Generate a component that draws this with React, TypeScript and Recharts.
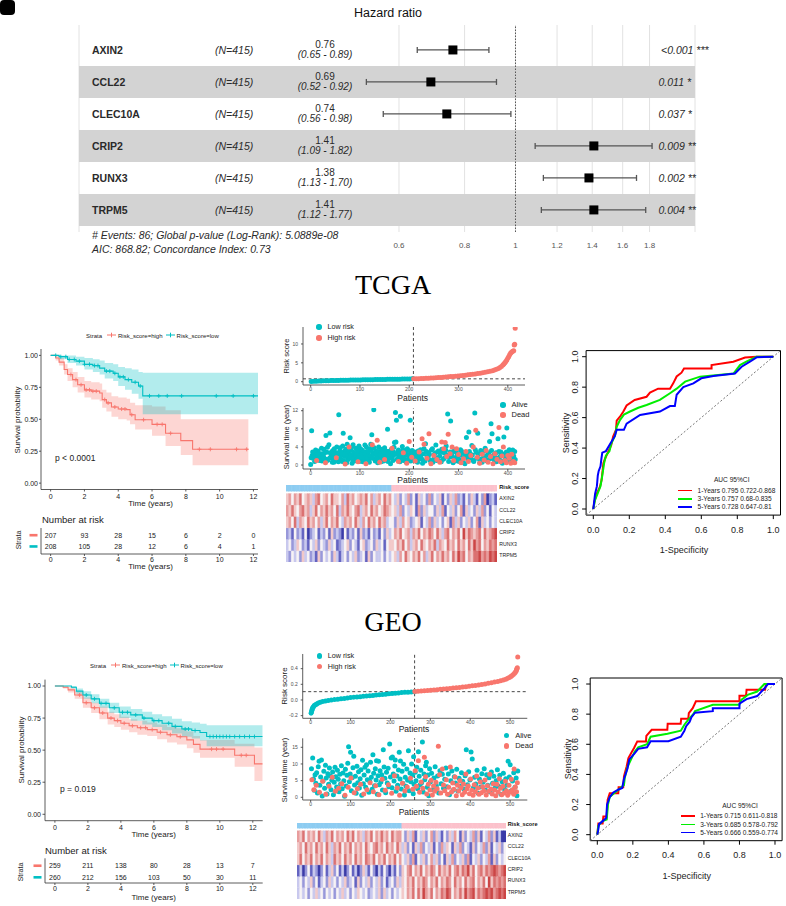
import React from 'react';
import {
  ComposedChart, ScatterChart, BarChart, Bar, Cell, Scatter, Line, Area, XAxis, YAxis,
  CartesianGrid, ReferenceLine, ReferenceArea, ErrorBar,
} from 'recharts';

const FONT = '"Liberation Sans", Arial, Helvetica, sans-serif';
const RED = '#F8766D';
const TEAL = '#00BFC4';
const AX = { stroke: '#333', strokeWidth: 0.8 };

// ---------- forest plot ----------
const GENES = ['AXIN2', 'CCL22', 'CLEC10A', 'CRIP2', 'RUNX3', 'TRPM5'];
const HR = [0.76, 0.69, 0.74, 1.41, 1.38, 1.41];
const HR_LO = [0.65, 0.52, 0.56, 1.09, 1.13, 1.12];
const HR_HI = [0.89, 0.92, 0.98, 1.82, 1.70, 1.77];
const P_TEXT = ['<0.001', '0.011', '0.037', '0.009', '0.002', '0.004'];
const P_STARS = ['***', '*', '*', '**', '**', '**'];
const FOREST_N = 415;
const HR_TICKS = [0.6, 0.8, 1, 1.2, 1.4, 1.6, 1.8];
const HR_DOMAIN = [0.1475, 2.197];

// ---------- KM ----------
const KM_TICKS = [0, 2, 4, 6, 8, 10, 12];
const SURV_TICKS = [0, 0.25, 0.5, 0.75, 1];
const RISK_TIMES = [0, 2, 4, 6, 8, 10, 12];

const TCGA_HIGH_T = [0, 0.3, 0.5, 0.8, 1.0, 1.3, 1.6, 2.0, 2.4, 2.9, 3.05, 3.3, 3.6, 4.0, 4.5, 4.7, 5.0, 6.0, 6.8, 7.7, 8.4];
const TCGA_HIGH_S = [1, 0.98, 0.947, 0.89, 0.85, 0.81, 0.77, 0.73, 0.72, 0.706, 0.654, 0.628, 0.596, 0.58, 0.575, 0.535, 0.496, 0.46, 0.39, 0.333, 0.265];
const TCGA_HIGH_LO = [1, 0.96, 0.92, 0.85, 0.80, 0.75, 0.71, 0.67, 0.655, 0.64, 0.59, 0.56, 0.52, 0.50, 0.49, 0.46, 0.42, 0.37, 0.29, 0.22, 0.14];
const TCGA_HIGH_HI = [1, 1, 0.98, 0.93, 0.90, 0.87, 0.83, 0.80, 0.79, 0.78, 0.73, 0.71, 0.68, 0.67, 0.66, 0.63, 0.61, 0.60, 0.57, 0.50, 0.50];
const TCGA_HIGH_CENSOR = [1.2, 1.5, 1.8, 2.1, 2.3, 2.5, 2.7, 3.2, 3.4, 3.8, 4.2, 4.4, 4.8, 5.5, 6.3, 6.6, 7.1, 8.8, 9.45, 11.0, 11.6];
const TCGA_LOW_T = [0, 0.5, 1.0, 1.5, 2.0, 2.5, 2.9, 3.2, 3.7, 4.0, 4.4, 4.8, 5.2, 5.45];
const TCGA_LOW_S = [1, 0.99, 0.968, 0.955, 0.93, 0.92, 0.90, 0.877, 0.86, 0.832, 0.81, 0.79, 0.76, 0.683];
const TCGA_LOW_LO = [1, 0.97, 0.94, 0.92, 0.89, 0.87, 0.85, 0.82, 0.80, 0.76, 0.73, 0.70, 0.66, 0.54];
const TCGA_LOW_HI = [1, 1, 1, 0.99, 0.98, 0.97, 0.96, 0.94, 0.93, 0.91, 0.90, 0.89, 0.87, 0.865];
const TCGA_LOW_CENSOR = [0.3, 0.6, 0.9, 1.1, 1.4, 1.7, 2.0, 2.3, 2.6, 2.8, 3.3, 3.5, 3.8, 4.1, 4.3, 4.6, 5.0, 5.3, 5.85, 6.4, 6.9, 7.75, 9.8, 10.8, 12.0];
const TCGA_AT_RISK_HIGH = [207, 93, 28, 15, 6, 2, 0];
const TCGA_AT_RISK_LOW = [208, 105, 28, 12, 6, 4, 1];

const GEO_HIGH_T = [0, 0.5, 0.8, 1.2, 1.7, 2.2, 2.7, 3.2, 3.6, 4.0, 4.5, 5.0, 5.6, 6.2, 6.8, 7.4, 8.0, 8.4, 8.8, 10.9, 12.1];
const GEO_HIGH_S = [1, 0.99, 0.97, 0.93, 0.87, 0.83, 0.79, 0.75, 0.73, 0.71, 0.69, 0.675, 0.66, 0.64, 0.62, 0.605, 0.58, 0.545, 0.508, 0.46, 0.393];
const GEO_HIGH_LO = [1, 0.98, 0.95, 0.90, 0.83, 0.79, 0.74, 0.70, 0.68, 0.66, 0.64, 0.62, 0.61, 0.585, 0.56, 0.545, 0.515, 0.48, 0.44, 0.37, 0.26];
const GEO_HIGH_HI = [1, 1, 0.99, 0.96, 0.91, 0.87, 0.84, 0.80, 0.78, 0.76, 0.74, 0.73, 0.715, 0.70, 0.68, 0.67, 0.645, 0.61, 0.58, 0.55, 0.52];
const GEO_HIGH_CENSOR = [1.5, 1.9, 2.4, 2.9, 3.4, 3.8, 4.2, 4.7, 5.2, 5.5, 5.9, 6.4, 7.0, 7.6, 9.5, 9.8, 10.2, 11.3, 11.6];
const GEO_LOW_T = [0, 1.0, 1.3, 1.7, 2.2, 2.7, 3.3, 3.9, 4.6, 5.3, 5.9, 6.5, 7.1, 7.7, 8.3, 8.8, 9.2];
const GEO_LOW_S = [1, 0.99, 0.96, 0.93, 0.90, 0.865, 0.83, 0.795, 0.775, 0.75, 0.73, 0.71, 0.685, 0.665, 0.653, 0.638, 0.606];
const GEO_LOW_LO = [1, 0.98, 0.94, 0.90, 0.865, 0.83, 0.79, 0.75, 0.73, 0.70, 0.68, 0.655, 0.63, 0.605, 0.59, 0.575, 0.53];
const GEO_LOW_HI = [1, 1, 0.98, 0.96, 0.935, 0.90, 0.87, 0.84, 0.82, 0.80, 0.78, 0.765, 0.745, 0.725, 0.715, 0.705, 0.695];
const GEO_LOW_CENSOR = [1.9, 2.4, 2.8, 3.1, 3.6, 4.1, 4.4, 4.9, 5.4, 6.0, 6.3, 6.9, 7.3, 7.9, 8.1, 8.5, 9.4, 9.6, 9.8, 10.0, 10.2, 10.4, 10.6, 10.9, 11.2, 11.5, 11.8, 12.1];
const GEO_AT_RISK_HIGH = [259, 211, 138, 80, 28, 13, 7];
const GEO_AT_RISK_LOW = [260, 212, 156, 103, 50, 30, 11];

// ---------- risk score curves (patient rank, score) ----------
const TCGA_LOW_RISK = [[1,0.02],[6,0.1],[11,0.15],[16,0.18],[21,0.21],[26,0.23],[31,0.25],[36,0.27],[41,0.29],[46,0.31],[51,0.33],[56,0.34],[61,0.36],[66,0.37],[71,0.39],[76,0.4],[81,0.42],[86,0.43],[91,0.45],[96,0.46],[101,0.47],[106,0.49],[111,0.5],[116,0.51],[121,0.53],[126,0.54],[131,0.55],[136,0.57],[141,0.58],[146,0.59],[151,0.6],[156,0.62],[161,0.63],[166,0.64],[171,0.65],[176,0.67],[181,0.68],[186,0.69],[191,0.71],[196,0.72],[201,0.73],[206,0.75],[208,0.76]];
const TCGA_HIGH_RISK = [[209,0.77],[214,0.79],[219,0.81],[224,0.84],[229,0.87],[234,0.9],[239,0.93],[244,0.97],[249,1.01],[254,1.05],[259,1.09],[264,1.14],[269,1.19],[274,1.24],[279,1.29],[284,1.35],[289,1.41],[294,1.47],[299,1.53],[304,1.6],[309,1.67],[314,1.74],[319,1.82],[324,1.9],[329,1.98],[334,2.07],[339,2.16],[344,2.26],[349,2.37],[354,2.49],[359,2.62],[364,2.76],[369,2.92],[373,3.08],[377,3.28],[381,3.5],[384,3.75],[387,4.05],[390,4.4],[392,4.7],[394,5.0],[396,5.35],[398,5.75],[400,6.2],[402,6.7],[404,7.2],[406,7.6],[408,7.9],[410,8.05],[412,8.2],[413,9.7],[414,9.9],[415,14.2]];
const GEO_LOW_RISK = [[1,-0.17],[2,-0.15],[3,-0.13],[4,-0.115],[5,-0.1],[7,-0.085],[9,-0.072],[12,-0.06],[15,-0.05],[19,-0.04],[24,-0.03],[30,-0.02],[37,-0.012],[44,-0.006],[52,0.0],[60,0.005],[68,0.01],[76,0.015],[84,0.02],[92,0.025],[100,0.03],[108,0.034],[116,0.038],[124,0.042],[132,0.046],[140,0.05],[148,0.054],[156,0.058],[164,0.062],[172,0.066],[180,0.07],[188,0.074],[196,0.078],[204,0.082],[212,0.086],[220,0.09],[228,0.094],[236,0.097],[244,0.1],[252,0.103],[260,0.106]];
const GEO_HIGH_RISK = [[261,0.107],[269,0.11],[277,0.113],[285,0.117],[293,0.12],[301,0.124],[309,0.128],[317,0.132],[325,0.136],[333,0.14],[341,0.144],[349,0.148],[357,0.152],[365,0.156],[373,0.16],[381,0.165],[389,0.17],[397,0.175],[405,0.18],[413,0.186],[421,0.192],[429,0.198],[437,0.205],[445,0.212],[453,0.22],[461,0.228],[469,0.237],[476,0.246],[483,0.256],[489,0.266],[494,0.277],[498,0.288],[502,0.3],[505,0.312],[508,0.325],[511,0.34],[513,0.355],[515,0.37],[516,0.385],[517,0.398],[518,0.41],[519,0.55]];

// ---------- survival time scatter (patient rank, years) ----------
const TCGA_ALIVE = [[2,7.6],[0,0.1],[3,2.1],[5,1.5],[7,2.6],[9,1.9],[11,2.3],[13,1.2],[15,3.1],[17,2.0],[19,1.7],[21,2.5],[23,0.9],[25,2.2],[27,3.5],[29,1.4],[31,6.5],[33,2.8],[35,1.1],[37,4.5],[39,7.1],[41,2.4],[43,1.6],[45,3.2],[47,0.6],[49,2.9],[51,1.8],[53,4.0],[55,2.6],[57,11.1],[58,1.3],[60,3.8],[62,2.1],[64,0.8],[66,7.0],[68,3.0],[70,1.9],[72,2.7],[74,4.6],[76,1.2],[78,2.3],[80,6.0],[82,3.4],[84,0.4],[86,4.5],[88,2.0],[90,1.6],[92,3.7],[94,2.5],[96,1.0],[98,4.2],[100,2.8],[102,1.5],[104,3.3],[106,0.7],[108,2.2],[110,4.4],[112,1.8],[114,3.0],[116,2.4],[118,1.1],[120,3.6],[122,4.6],[124,6.7],[126,2.6],[128,12.2],[130,1.4],[132,3.1],[134,2.0],[136,0.5],[138,4.0],[140,2.7],[142,1.7],[144,3.4],[146,2.2],[148,0.9],[150,3.8],[152,2.5],[154,1.3],[156,7.9],[158,3.0],[160,2.1],[162,0.3],[164,3.5],[166,1.8],[168,2.9],[170,5.0],[172,11.6],[173,5.1],[174,9.9],[176,2.4],[178,3.3],[180,1.5],[182,10.8],[184,2.7],[186,4.1],[188,1.0],[190,3.1],[192,2.2],[194,0.6],[196,3.6],[198,2.0],[200,1.4],[202,9.9],[204,2.8],[206,3.2],[210,1.8],[212,2.5],[215,0.8],[218,3.1],[221,1.4],[224,2.2],[227,0.4],[230,3.6],[233,4.7],[236,1.9],[239,2.7],[242,1.1],[245,3.3],[248,0.6],[251,2.4],[254,4.4],[257,1.6],[260,2.9],[263,0.9],[266,3.5],[269,1.3],[272,2.6],[275,4.2],[278,11.3],[281,1.7],[284,9.7],[286,2.3],[289,0.5],[292,3.0],[295,1.5],[298,2.1],[301,0.8],[304,3.4],[307,1.2],[310,2.6],[313,0.3],[316,6.1],[318,1.9],[321,7.3],[324,2.4],[327,4.3],[330,1.0],[333,11.5],[336,2.8],[339,7.0],[342,1.4],[345,3.2],[348,0.6],[351,2.0],[354,3.7],[357,1.1],[360,2.7],[363,5.2],[366,9.1],[368,6.9],[371,1.6],[374,2.3],[377,0.7],[380,5.8],[383,1.3],[386,2.9],[389,0.4],[392,6.2],[395,1.8],[398,8.2],[401,2.4],[404,0.9],[407,1.5],[410,3.3],[413,0.6],[415,1.2],
  [1,1.6],[4,2.9],[8,0.8],[10,3.3],[14,2.4],[18,1.0],[22,3.7],[26,1.8],[28,2.7],[32,0.9],[34,3.9],[38,1.5],[42,2.9],[44,0.6],[46,2.0],[48,3.6],[50,1.1],[54,2.3],[56,0.7],[59,3.1],[61,1.4],[63,2.6],[65,4.2],[67,1.0],[69,2.4],[71,3.5],[73,0.5],[75,1.9],[77,3.0],[79,1.6],[81,2.2],[83,3.9],[85,1.3],[87,2.8],[89,0.9],[91,2.1],[93,1.2],[95,3.2],[97,2.0],[99,0.8],[101,3.6],[103,2.3],[105,1.7],[107,3.0],[109,1.0],[111,2.6],[113,4.0],[115,1.4],[117,2.9],[119,0.6],[121,2.0],[123,3.2],[125,1.5],[127,2.3],[129,3.8],[131,0.9],[133,2.5],[135,1.6],[137,3.0],[139,1.2],[141,2.4],[143,0.7],[145,3.5],[147,1.9],[149,2.6],[151,1.1],[153,3.1],[155,2.0],[157,0.8],[159,2.7],[161,1.6],[163,3.3],[165,2.2],[167,1.0],[169,3.9],[171,2.3],[175,1.3],[177,3.0],[179,2.1],[181,0.7],[183,2.5],[185,1.7],[187,3.4],[189,2.0],[191,1.2],[193,3.0],[195,2.4],[197,1.1],[199,3.2],[201,2.1],[203,0.9],[205,2.5],[207,1.6],
  [211,2.9],[214,1.6],[217,0.6],[220,2.1],[223,3.4],[226,1.3],[229,2.5],[232,0.9],[235,3.0],[238,1.7],[241,2.3],[244,0.5],[247,3.6],[250,1.4],[253,2.7],[256,1.0],[259,3.1],[262,2.0],[265,0.7],[268,2.8],[271,1.5],[274,3.3],[277,2.2],[280,0.8],[283,2.9],[288,1.8],[291,3.4],[294,0.9],[297,2.6],[300,1.3],[303,2.2],[306,3.1],[309,0.6],[312,1.8],[315,2.7],[319,1.1],[322,3.0],[325,1.6],[328,2.2],[331,0.8],[334,3.4],[337,1.5],[340,2.4],[343,0.5],[346,2.8],[349,1.3],[352,3.1],[355,2.0],[358,0.9],[361,2.5],[364,1.4],[367,3.2],[370,2.1],[373,1.0],[376,2.7],[379,1.5],[382,3.0],[385,2.0],[388,0.8],[391,2.4],[394,1.1],[397,2.9],[400,1.6],[403,3.4],[406,2.2],[409,0.7],[412,2.0],[414,3.0]];
const TCGA_DEAD = [[12,1.0],[30,0.5],[52,1.6],[70,0.2],[78,4.0],[96,0.7],[112,0.3],[125,4.5],[135,5.5],[140,0.6],[150,1.2],[165,3.7],[178,0.8],[188,2.7],[195,0.4],[200,5.2],[205,1.7],[212,0.9],[220,2.9],[226,5.8],[230,4.6],[236,1.5],[240,6.9],[244,0.3],[250,2.1],[256,1.2],[262,0.6],[266,5.1],[270,3.6],[273,5.0],[276,1.9],[279,6.8],[283,2.5],[287,4.0],[290,1.0],[296,3.6],[300,2.3],[305,0.5],[310,1.4],[315,3.0],[320,0.8],[325,2.1],[330,4.0],[335,7.7],[338,1.7],[343,0.4],[348,2.4],[352,1.1],[356,3.2],[360,0.6],[365,1.9],[370,0.3],[374,2.5],[378,1.3],[382,8.3],[385,0.7],[388,2.0],[391,4.0],[394,1.0],[397,0.5],[400,2.1],[403,1.5],[406,0.4],[408,2.4],[411,0.8],[414,0.5]];
const GEO_ALIVE = [[2,8.6],[5,11.8],[7,5.5],[9,2.1],[11,6.8],[13,4.2],[15,7.4],[17,1.3],[19,9.2],[21,10.8],[23,3.6],[25,6.1],[27,11.2],[29,0.4],[31,4.9],[33,7.8],[35,2.7],[37,9.6],[39,5.8],[41,1.0],[43,7.1],[45,3.9],[47,8.8],[49,6.4],[51,2.3],[53,5.1],[55,7.6],[57,0.8],[59,4.5],[61,9.0],[63,6.2],[65,3.1],[67,8.1],[69,5.4],[71,1.7],[73,6.9],[75,4.0],[77,9.5],[79,2.6],[81,7.3],[83,5.0],[85,0.3],[87,8.4],[89,3.4],[91,6.6],[93,10.2],[95,15.2],[97,4.7],[99,7.0],[100,13.5],[102,2.0],[104,5.9],[106,8.9],[108,12.3],[110,3.7],[112,6.3],[114,1.2],[116,9.3],[118,4.4],[120,7.7],[122,2.8],[124,5.6],[126,8.3],[128,0.6],[130,11.1],[132,4.1],[134,6.7],[136,9.0],[138,3.0],[140,9.8],[142,5.3],[144,7.9],[146,1.5],[148,4.8],[150,10.5],[152,6.0],[154,2.4],[156,12.8],[158,7.2],[160,3.5],[162,8.6],[164,5.2],[165,11.0],[167,0.9],[169,6.5],[170,10.8],[172,3.8],[174,8.0],[176,4.6],[178,6.8],[180,2.2],[182,14.3],[184,9.1],[186,5.7],[188,1.4],[190,7.5],[192,4.3],[194,8.7],[196,3.2],[198,16.0],[200,6.1],[202,11.8],[204,2.9],[205,12.1],[207,7.0],[209,4.9],[211,9.4],[212,11.2],[214,1.8],[216,6.4],[218,3.6],[220,8.2],[222,13.5],[224,5.5],[225,10.9],[227,2.5],[229,7.8],[231,4.2],[233,9.9],[235,0.7],[237,6.0],[239,3.3],[241,8.5],[243,5.1],[245,14.0],[247,2.0],[249,7.3],[251,4.7],[253,10.0],[255,6.6],[257,1.1],[258,12.2],[259,3.9],[262,7.5],[264,5.0],[266,9.0],[268,2.6],[270,13.7],[272,6.3],[274,3.7],[276,8.1],[278,4.4],[280,16.6],[282,1.6],[284,7.0],[286,5.3],[288,9.5],[290,10.5],[292,3.0],[294,6.7],[296,0.5],[298,8.6],[300,4.6],[303,7.2],[306,2.3],[309,5.8],[312,9.2],[315,3.5],[318,6.4],[321,1.3],[324,8.0],[327,4.1],[330,6.9],[333,2.7],[336,5.4],[339,8.8],[342,3.2],[345,7.0],[348,0.8],[351,5.0],[354,7.9],[357,2.1],[360,6.2],[363,4.3],[366,8.4],[369,1.9],[372,5.7],[375,3.4],[378,7.4],[381,4.8],[384,2.5],[387,6.5],[390,14.3],[393,3.8],[396,7.7],[399,5.2],[402,13.6],[405,11.5],[408,2.9],[411,6.0],[414,4.0],[417,8.1],[420,1.2],[423,5.5],[426,3.1],[429,7.1],[432,4.5],[435,8.6],[438,2.2],[441,6.8],[444,3.6],[447,5.9],[450,1.6],[453,7.6],[456,4.2],[459,6.3],[462,2.8],[465,5.0],[468,8.3],[471,3.3],[474,6.6],[477,0.9],[480,4.7],[483,7.2],[486,2.4],[489,5.6],[492,3.7],[495,10.8],[498,6.1],[500,9.8],[503,2.0],[506,4.9],[509,7.4],[512,3.0],[515,5.8],[517,0.5],[519,7.9]];
const GEO_DEAD = [[3,5.3],[8,2.3],[14,3.6],[22,1.5],[30,4.8],[38,0.9],[46,3.3],[54,6.0],[62,1.8],[70,2.7],[78,4.1],[86,0.6],[94,3.0],[101,5.8],[109,1.4],[117,2.6],[125,3.9],[133,1.0],[141,2.3],[149,4.4],[157,1.7],[163,3.5],[171,0.8],[179,5.4],[187,2.1],[195,3.8],[203,1.2],[210,6.5],[217,2.8],[223,0.6],[230,4.2],[236,1.9],[242,3.1],[250,5.7],[256,2.4],[262,8.0],[265,3.3],[270,11.0],[273,1.5],[277,4.6],[281,2.7],[285,12.0],[288,6.2],[291,1.0],[295,3.9],[299,2.2],[302,5.1],[305,0.7],[308,3.4],[311,1.8],[314,4.5],[317,2.6],[320,15.3],[323,6.8],[326,1.3],[330,8.5],[333,3.7],[336,2.0],[340,5.3],[343,0.9],[346,3.0],[350,9.1],[353,1.6],[356,4.3],[359,2.4],[362,6.1],[365,0.5],[368,3.6],[371,1.9],[374,5.0],[377,2.9],[380,0.8],[383,4.0],[386,1.5],[389,7.0],[392,2.6],[395,3.4],[398,1.1],[401,5.5],[404,2.1],[407,0.6],[410,3.8],[413,1.7],[416,6.4],[419,2.8],[422,0.9],[425,4.6],[428,1.4],[431,3.2],[434,2.0],[437,5.2],[440,0.7],[443,3.5],[446,1.8],[449,6.9],[452,2.5],[455,1.0],[458,4.1],[461,2.2],[464,0.5],[467,3.9],[470,1.6],[473,5.6],[476,2.7],[479,0.8],[482,3.3],[485,1.3],[488,4.8],[491,2.0],[494,0.6],[497,3.6],[500,1.5],[503,5.4],[506,2.3],[509,0.9],[510,8.5],[513,3.1],[516,1.7],[518,4.4]];

// ---------- heatmaps: one digit per column, 0 = deep blue, 4 = white, 8 = deep red ----------
const HEAT_GENES = ['AXIN2', 'CCL22', 'CLEC10A', 'CRIP2', 'RUNX3', 'TRPM5'];
const HEAT_PAL = ['#3b3ba8', '#6464c2', '#9898da', '#c9c9ee', '#f7f3f5', '#f2c9c9', '#e89d9d', '#db7272', '#cc4646'];
const TCGA_HEAT = [
  '5646574565' + '3674564755' + '4637564565' + '7463564756' + '4352436241' + '5342624351' + '4253623142' + '5314260231',
  '6575467563' + '5746575647' + '3657546735' + '6475645765' + '4536243541' + '6253442536' + '1435246153' + '4253624143',
  '5647365475' + '6463574657' + '4365647536' + '4756475634' + '4253645234' + '5143625342' + '4516352435' + '2461534243',
  '2314231402' + '3413241523' + '2041324152' + '3142314253' + '4657456365' + '7465764753' + '6746574857' + '6567475678',
  '3423542314' + '3524325341' + '2345243145' + '2342534145' + '5465746356' + '4754657365' + '4756475647' + '5867465767',
  '3243425342' + '3152434253' + '1342435234' + '1524334243' + '4536475465' + '7463574657' + '5647586746' + '5778676878',
];
const GEO_HEAT = [
  '6574656475' + '3657465647' + '5746536574' + '6575647566' + '4253614352' + '4625314253' + '6415243625' + '1436251300',
  '5647564756' + '4753657465' + '7465647546' + '7564756475' + '3524153624' + '3514263541' + '5362431524' + '3625143524',
  '5746574657' + '4653756475' + '6475647657' + '4657465746' + '4352614352' + '4635241536' + '2435261435' + '2436152434',
  '1302413202' + '4135241302' + '4130253142' + '0314203142' + '5467465746' + '5764756574' + '6757685746' + '7576787678',
  '3424352413' + '4253424352' + '3415243524' + '3524134253' + '5465746576' + '4657465764' + '7564756746' + '5748576767',
  '3434243534' + '2434243534' + '2435434234' + '3525342434' + '5465747586' + '5746576874' + '6575867857' + '6787867878',
];
const RISK_BAR = ['#8ecdf2', '#fcc2cc'];

// ---------- ROC ----------
const ROC_TICKS = [0, 0.2, 0.4, 0.6, 0.8, 1];
const TCGA_ROC_1Y_X = [0, 0.006, 0.019, 0.037, 0.046, 0.056, 0.065, 0.083, 0.10, 0.11, 0.126, 0.13, 0.148, 0.167, 0.185, 0.23, 0.296, 0.315, 0.36, 0.426, 0.444, 0.463, 0.49, 0.504, 0.657, 0.657, 0.778, 0.843, 0.907, 1];
const TCGA_ROC_1Y_Y = [0, 0.048, 0.10, 0.147, 0.19, 0.30, 0.33, 0.376, 0.42, 0.475, 0.52, 0.58, 0.606, 0.64, 0.68, 0.716, 0.737, 0.764, 0.79, 0.79, 0.825, 0.87, 0.895, 0.923, 0.923, 0.945, 0.967, 0.995, 1, 1];
const TCGA_ROC_3Y_X = [0, 0.01, 0.02, 0.04, 0.05, 0.06, 0.07, 0.09, 0.10, 0.12, 0.13, 0.148, 0.17, 0.204, 0.25, 0.296, 0.37, 0.426, 0.463, 0.51, 0.593, 0.78, 0.815, 0.85, 0.907, 1];
const TCGA_ROC_3Y_Y = [0, 0.06, 0.09, 0.15, 0.22, 0.30, 0.35, 0.38, 0.43, 0.48, 0.54, 0.584, 0.62, 0.64, 0.665, 0.683, 0.716, 0.76, 0.79, 0.836, 0.869, 0.89, 0.945, 0.967, 1, 1];
const TCGA_ROC_5Y_X = [0, 0.005, 0.01, 0.02, 0.025, 0.03, 0.04, 0.045, 0.05, 0.07, 0.09, 0.10, 0.12, 0.13, 0.17, 0.185, 0.26, 0.37, 0.426, 0.453, 0.463, 0.5, 0.556, 0.6, 0.667, 0.787, 0.824, 0.87, 0.907, 1];
const TCGA_ROC_5Y_Y = [0, 0.05, 0.10, 0.15, 0.22, 0.25, 0.28, 0.33, 0.37, 0.38, 0.42, 0.44, 0.48, 0.52, 0.52, 0.56, 0.617, 0.64, 0.676, 0.676, 0.75, 0.80, 0.825, 0.858, 0.873, 0.89, 0.934, 0.967, 0.996, 1];
const GEO_ROC_1Y_X = [0, 0.006, 0.03, 0.034, 0.053, 0.058, 0.07, 0.118, 0.12, 0.146, 0.15, 0.165, 0.175, 0.19, 0.206, 0.225, 0.274, 0.276, 0.306, 0.394, 0.396, 0.469, 0.472, 0.512, 0.515, 0.537, 0.555, 0.80, 0.80, 0.837, 0.84, 0.944, 0.95, 1];
const GEO_ROC_1Y_Y = [0, 0.075, 0.075, 0.12, 0.12, 0.23, 0.275, 0.275, 0.315, 0.315, 0.386, 0.452, 0.508, 0.541, 0.574, 0.619, 0.619, 0.656, 0.696, 0.696, 0.736, 0.736, 0.769, 0.769, 0.807, 0.84, 0.885, 0.885, 0.922, 0.922, 0.962, 0.962, 1, 1];
const GEO_ROC_3Y_X = [0, 0.006, 0.03, 0.053, 0.06, 0.07, 0.12, 0.15, 0.155, 0.17, 0.19, 0.21, 0.23, 0.28, 0.30, 0.395, 0.47, 0.49, 0.51, 0.54, 0.55, 0.65, 0.80, 0.81, 0.85, 0.90, 0.94, 1];
const GEO_ROC_3Y_Y = [0, 0.06, 0.09, 0.10, 0.20, 0.25, 0.30, 0.33, 0.38, 0.45, 0.50, 0.55, 0.58, 0.60, 0.65, 0.67, 0.69, 0.73, 0.76, 0.80, 0.82, 0.862, 0.862, 0.895, 0.93, 0.95, 1, 1];
const GEO_ROC_5Y_X = [0, 0.005, 0.01, 0.03, 0.05, 0.055, 0.07, 0.09, 0.12, 0.14, 0.15, 0.17, 0.18, 0.21, 0.23, 0.28, 0.30, 0.40, 0.47, 0.49, 0.50, 0.52, 0.53, 0.55, 0.65, 0.65, 0.80, 0.80, 0.84, 0.90, 0.94, 0.96, 1];
const GEO_ROC_5Y_Y = [0, 0.03, 0.07, 0.09, 0.11, 0.20, 0.25, 0.28, 0.30, 0.31, 0.37, 0.44, 0.50, 0.54, 0.57, 0.58, 0.62, 0.62, 0.65, 0.69, 0.72, 0.75, 0.78, 0.81, 0.82, 0.84, 0.84, 0.87, 0.90, 0.92, 0.97, 1, 1];
const ROC_COLORS = ['#ff0000', '#00ee00', '#0000ff'];
const TCGA_ROC_LEGEND = ['1-Years 0.795 0.722-0.868', '3-Years 0.757 0.68-0.835', '5-Years 0.728 0.647-0.81'];
const GEO_ROC_LEGEND = ['1-Years 0.715 0.611-0.818', '3-Years 0.685 0.578-0.792', '5-Years 0.666 0.559-0.774'];

// ---------- helpers ----------
const pairs = (a: number[][]) => a.map(([p, v]) => ({ p, v }));
const zipXY = (xs: number[], ys: number[]) => xs.map((x, i) => ({ x, y: ys[i] }));

function stepAt(ts: number[], ss: number[], t: number) {
  let s = ss[0];
  for (let i = 0; i < ts.length; i++) if (ts[i] <= t) s = ss[i];
  return s;
}

function kmSeries(t: number[], s: number[], lo: number[], hi: number[], censor: number[], end: number, color: string) {
  const line = t.map((tt, i) => ({ t: tt, s: s[i] }));
  line.push({ t: end, s: s[s.length - 1] });
  const band = t.map((tt, i) => ({ t: tt, ci: [lo[i], hi[i]] }));
  band.push({ t: end, ci: [lo[lo.length - 1], hi[hi.length - 1]] });
  const marks = censor.map((c) => ({ t: c, s: stepAt(t, s, c) }));
  return { line, band, marks, color };
}

function Txt({ x, y, size, anchor = 'start', rotate = false, bold = false, italic = false, color = '#222', family, children }: any) {
  const tx = anchor === 'middle' ? '-50%' : anchor === 'end' ? '-100%' : '0';
  return (
    <div style={{
      position: 'absolute', left: x, top: y, whiteSpace: 'nowrap', lineHeight: 1,
      transform: `translate(${rotate ? '-50%' : tx},-50%)${rotate ? ' rotate(-90deg)' : ''}`,
      fontSize: size, fontWeight: bold ? 'bold' : 'normal', fontStyle: italic ? 'italic' : 'normal',
      color, fontFamily: family || FONT,
    }}>{children}</div>
  );
}

function Box({ left, top, children }: any) {
  return <div style={{ position: 'absolute', left, top }}>{children}</div>;
}

// ---------- forest ----------
const forestRows = GENES.map((g, i) => ({
  row: i + 1, gene: g, hr: HR[i], lo: HR_LO[i], hi: HR_HI[i],
  err: [HR[i] - HR_LO[i], HR_HI[i] - HR[i]], p: P_TEXT[i], stars: P_STARS[i],
}));

function ForestShape(props: any) {
  const { cx, cy, payload } = props;
  if (cx == null || cy == null) return null;
  const t = { fill: '#2a2a2a', fontSize: 10.5 };
  return (
    <g>
      <rect x={cx - 4.5} y={cy - 4.5} width={9} height={9} fill="#000" />
      <text {...t} x={92} y={cy} dy="0.36em" fontWeight="bold">{payload.gene}</text>
      <text {...t} x={215} y={cy} dy="0.36em" fontStyle="italic">(N={FOREST_N})</text>
      <text {...t} fontSize={10} x={325} y={cy - 5.8} dy="0.36em" textAnchor="middle">{payload.hr.toFixed(2)}</text>
      <text {...t} fontSize={10} x={325} y={cy + 4.2} dy="0.36em" textAnchor="middle" fontStyle="italic">({payload.lo.toFixed(2)} - {payload.hi.toFixed(2)})</text>
      <text {...t} x={payload.p.startsWith('<') ? 661 : 658.5} y={cy} dy="0.36em" fontStyle="italic">{payload.p} {payload.stars}</text>
    </g>
  );
}

function Forest() {
  return (
    <ComposedChart width={786} height={260} margin={{ top: 25, right: 91, bottom: 8, left: 79 }}>
      <CartesianGrid horizontal={false} stroke="#e2e2e2" />
      <XAxis dataKey="hr" type="number" scale="log" domain={HR_DOMAIN} ticks={HR_TICKS} interval={0}
        axisLine={false} tickLine={false} tick={{ fontSize: 8, fill: '#555' }} height={20} tickMargin={4} />
      <YAxis dataKey="row" type="number" domain={[0.22, 6.69]} reversed hide />
      {[2, 4, 6].map((r) => (
        <ReferenceArea key={r} y1={r - 0.5} y2={r + 0.5} x1={HR_DOMAIN[0]} x2={HR_DOMAIN[1]} fill="#d3d3d3" fillOpacity={1} stroke="none" />
      ))}
      <ReferenceLine x={1} stroke="#555" strokeDasharray="1.5 1.5" />
      <Scatter data={forestRows} dataKey="row" shape={ForestShape} isAnimationActive={false}>
        <ErrorBar dataKey="err" direction="x" width={3} stroke="#555" strokeWidth={1.3} />
      </Scatter>
    </ComposedChart>
  );
}

// ---------- KM ----------
function PlusMark(props: any) {
  const { cx, cy, fill } = props;
  if (cx == null) return null;
  return <path d={`M${cx - 2},${cy}h4M${cx},${cy - 2}v4`} stroke={fill} strokeWidth={0.9} />;
}

function KMChart({ series, xDomain, width, height, margin, xHeight, yTickSize, yTickMargin }: any) {
  return (
    <ComposedChart width={width} height={height} margin={margin}>
      <XAxis dataKey="t" type="number" domain={xDomain} ticks={KM_TICKS} interval={0} allowDataOverflow height={xHeight}
        tick={{ fontSize: 7, fill: '#222' }} tickSize={2} tickMargin={2.5} axisLine={AX} tickLine={AX} />
      <YAxis type="number" domain={[-0.05, 1.05]} ticks={SURV_TICKS} interval={0} allowDataOverflow width={30}
        tickFormatter={(v: number) => v.toFixed(2)} tick={{ fontSize: 7, fill: '#222' }}
        tickSize={yTickSize} tickMargin={yTickMargin} axisLine={AX} tickLine={AX} />
      {series.map((c: any, i: number) => (
        <Area key={'a' + i} data={c.band} dataKey="ci" type="stepAfter" fill={c.color} fillOpacity={0.3} stroke="none" isAnimationActive={false} />
      ))}
      {series.map((c: any, i: number) => (
        <Line key={'l' + i} data={c.line} dataKey="s" type="stepAfter" stroke={c.color} strokeWidth={1.1} dot={false} isAnimationActive={false} />
      ))}
      {series.map((c: any, i: number) => (
        <Scatter key={'c' + i} data={c.marks} dataKey="s" fill={c.color} shape={PlusMark} isAnimationActive={false} />
      ))}
    </ComposedChart>
  );
}

function StrataTick(props: any) {
  const { x, y, payload } = props;
  return <rect x={x - 8} y={y - 1.3} width={8} height={2.6} fill={payload.value === 1 ? RED : TEAL} />;
}

function CountLabel(props: any) {
  const { cx, cy, payload } = props;
  if (cx == null) return null;
  return <text x={cx} y={cy} dy="0.36em" textAnchor="middle" fontSize={7} fill="#222">{payload.n}</text>;
}

function RiskTable({ high, low, xDomain, yDomain, width, height, margin }: any) {
  const rows = [
    ...RISK_TIMES.map((t, j) => ({ t, row: 1, n: high[j] })),
    ...RISK_TIMES.map((t, j) => ({ t, row: 2, n: low[j] })),
  ];
  return (
    <ScatterChart width={width} height={height} margin={margin}>
      <XAxis dataKey="t" type="number" domain={xDomain} ticks={KM_TICKS} interval={0} allowDataOverflow height={20}
        tick={{ fontSize: 7, fill: '#222' }} tickSize={2} tickMargin={1.5} axisLine={AX} tickLine={AX} />
      <YAxis dataKey="row" type="number" domain={yDomain} reversed ticks={[1, 2]} interval={0} allowDataOverflow width={30}
        tickLine={false} tickSize={0} tickMargin={3.5} tick={StrataTick} axisLine={AX} />
      <Scatter data={rows} shape={CountLabel} isAnimationActive={false} />
    </ScatterChart>
  );
}

function KMLegend({ x, y }: any) {
  const key = (color: string) => (
    <svg width={9} height={7} style={{ margin: '0 2px 0 3px' }}>
      <line x1={0} x2={9} y1={3.5} y2={3.5} stroke={color} strokeWidth={1} />
      <line x1={4.5} x2={4.5} y1={1.2} y2={5.8} stroke={color} strokeWidth={1} />
    </svg>
  );
  return (
    <div style={{ position: 'absolute', left: x, top: y, transform: 'translateY(-50%)', display: 'flex', alignItems: 'center', fontSize: 6, color: '#222', whiteSpace: 'nowrap', lineHeight: 1 }}>
      <span style={{ marginRight: 2 }}>Strata</span>
      {key(RED)}<span>Risk_score=high</span>
      {key(TEAL)}<span>Risk_score=low</span>
    </div>
  );
}

// ---------- risk score / survival scatter ----------
const dotShape = (r: number, color: string) => (props: any) =>
  props.cx == null ? null : <circle cx={props.cx} cy={props.cy} r={r} fill={color} />;

function PointChart({ a, b, colorA, colorB, r, xDomain, xTicks, yDomain, yTicks, yFmt, width, height, margin, hLine, vLine }: any) {
  return (
    <ScatterChart width={width} height={height} margin={margin}>
      <XAxis dataKey="p" type="number" domain={xDomain} ticks={xTicks} interval={0} allowDataOverflow height={16}
        tick={{ fontSize: 5, fill: '#4d4d4d' }} tickSize={2} tickMargin={0.5} axisLine={AX} tickLine={AX} />
      <YAxis dataKey="v" type="number" domain={yDomain} ticks={yTicks} interval={0} allowDataOverflow width={18}
        tickFormatter={yFmt} tick={{ fontSize: 5, fill: '#4d4d4d' }} tickSize={2} tickMargin={3} axisLine={AX} tickLine={AX} />
      <Scatter data={a} shape={dotShape(r, colorA)} isAnimationActive={false} />
      <Scatter data={b} shape={dotShape(r, colorB)} isAnimationActive={false} />
      {hLine != null && <ReferenceLine y={hLine} stroke="#333" strokeDasharray="3 2.5" strokeWidth={0.9} />}
      <ReferenceLine x={vLine} stroke="#333" strokeDasharray="3 2.5" strokeWidth={0.9} />
    </ScatterChart>
  );
}

function DotLegend({ x, y, gap, items, size }: any) {
  return (
    <>
      {items.map((it: any, i: number) => (
        <React.Fragment key={it.label}>
          <div style={{ position: 'absolute', left: x - 2.7, top: y + i * gap - 2.7, width: 5.4, height: 5.4, borderRadius: '50%', background: it.color }} />
          <Txt x={x + 8.5} y={y + i * gap} size={size}>{it.label}</Txt>
        </React.Fragment>
      ))}
    </>
  );
}

// ---------- heatmap ----------
function Heatmap({ rows, width, height, riskH }: any) {
  const n = rows[0].length;
  const half = n / 2;
  const cols = Array.from({ length: n }, (_, i) => {
    const o: any = { i, gap: 0.2, risk: riskH };
    HEAT_GENES.forEach((g) => { o[g] = 1; });
    return o;
  });
  const total = 6 + 0.2 + riskH;
  return (
    <BarChart width={width} height={height} data={cols} margin={{ top: 0, right: 0, bottom: 0, left: 0 }} barCategoryGap={0} barGap={0}>
      <XAxis dataKey="i" hide />
      <YAxis type="number" domain={[0, total]} allowDataOverflow hide />
      {[...HEAT_GENES].reverse().map((g) => {
        const k = HEAT_GENES.indexOf(g);
        return (
          <Bar key={g} dataKey={g} stackId="h" isAnimationActive={false}>
            {cols.map((c, i) => {
              const col = HEAT_PAL[Number(rows[k][i] ?? 4)];
              return <Cell key={i} fill={col} stroke={col} strokeWidth={0.3} />;
            })}
          </Bar>
        );
      })}
      <Bar dataKey="gap" stackId="h" fill="transparent" isAnimationActive={false} />
      <Bar dataKey="risk" stackId="h" isAnimationActive={false}>
        {cols.map((c, i) => {
          const col = i < half ? RISK_BAR[0] : RISK_BAR[1];
          return <Cell key={i} fill={col} stroke={col} strokeWidth={0.3} />;
        })}
      </Bar>
    </BarChart>
  );
}

function HeatLabels({ x, top, unit, riskH }: any) {
  return (
    <>
      <Txt x={x} y={top + (riskH * unit) / 2} size={5.6} bold color="#111">Risk_score</Txt>
      {HEAT_GENES.map((g, k) => (
        <Txt key={g} x={x} y={top + (riskH + 0.2 + k + 0.5) * unit} size={5.2} color="#222">{g}</Txt>
      ))}
    </>
  );
}

// ---------- ROC ----------
function RotTick(props: any) {
  const { x, y, payload } = props;
  return (
    <text x={x} y={y} transform={`rotate(-90 ${x} ${y})`} textAnchor="middle" fontSize={9} fill="#222">
      {Number(payload.value).toFixed(1)}
    </text>
  );
}

function RocChart({ curves, width, height, margin, xHeight, xTickMargin, yTickMargin }: any) {
  return (
    <ComposedChart width={width} height={height} margin={margin}>
      <XAxis dataKey="x" type="number" domain={[-0.04, 1.04]} ticks={ROC_TICKS} interval={0} allowDataOverflow height={xHeight}
        axisLine={false} tickSize={4} tickMargin={xTickMargin} tickLine={{ stroke: '#000' }}
        tick={{ fontSize: 9, fill: '#222' }} tickFormatter={(v: number) => v.toFixed(1)} />
      <YAxis type="number" domain={[-0.04, 1.04]} ticks={ROC_TICKS} interval={0} allowDataOverflow width={18}
        axisLine={false} tickSize={4} tickMargin={yTickMargin} tickLine={{ stroke: '#000' }} tick={RotTick} />
      <ReferenceArea x1={-0.04} x2={1.04} y1={-0.04} y2={1.04} fill="#fff" fillOpacity={0} stroke="#000" strokeWidth={1} />
      <ReferenceLine segment={[{ x: -0.04, y: -0.04 }, { x: 1.04, y: 1.04 }]} stroke="#777" strokeDasharray="2 2" />
      {curves.map((c: any, i: number) => (
        <Line key={i} data={c} dataKey="y" type="linear" stroke={ROC_COLORS[i]} strokeWidth={2} dot={false} isAnimationActive={false} />
      ))}
    </ComposedChart>
  );
}

function RocLegend({ cx, titleY, lineX, rowsY, items }: any) {
  return (
    <>
      <Txt x={cx} y={titleY} size={6.6} anchor="middle">AUC 95%CI</Txt>
      {items.map((s: string, i: number) => (
        <React.Fragment key={s}>
          <div style={{ position: 'absolute', left: lineX, top: rowsY[i] - 0.6, width: 14, height: 1.2, background: ROC_COLORS[i] }} />
          <Txt x={lineX + 19.5} y={rowsY[i]} size={6.6}>{s}</Txt>
        </React.Fragment>
      ))}
    </>
  );
}

// ---------- page ----------
const tcgaKM = [
  kmSeries(TCGA_HIGH_T, TCGA_HIGH_S, TCGA_HIGH_LO, TCGA_HIGH_HI, TCGA_HIGH_CENSOR, 11.7, RED),
  kmSeries(TCGA_LOW_T, TCGA_LOW_S, TCGA_LOW_LO, TCGA_LOW_HI, TCGA_LOW_CENSOR, 12.3, TEAL),
];
const geoKM = [
  kmSeries(GEO_HIGH_T, GEO_HIGH_S, GEO_HIGH_LO, GEO_HIGH_HI, GEO_HIGH_CENSOR, 12.6, RED),
  kmSeries(GEO_LOW_T, GEO_LOW_S, GEO_LOW_LO, GEO_LOW_HI, GEO_LOW_CENSOR, 12.6, TEAL),
];
const tcgaRoc = [zipXY(TCGA_ROC_1Y_X, TCGA_ROC_1Y_Y), zipXY(TCGA_ROC_3Y_X, TCGA_ROC_3Y_Y), zipXY(TCGA_ROC_5Y_X, TCGA_ROC_5Y_Y)];
const geoRoc = [zipXY(GEO_ROC_1Y_X, GEO_ROC_1Y_Y), zipXY(GEO_ROC_3Y_X, GEO_ROC_3Y_Y), zipXY(GEO_ROC_5Y_X, GEO_ROC_5Y_Y)];

export default function App() {
  return (
    <div style={{ position: 'absolute', left: 0, top: 0, width: 786, height: 906, background: '#fff', fontFamily: FONT, overflow: 'hidden' }}>
      <div style={{ position: 'absolute', left: 0, top: 0, width: 15, height: 15, background: '#000', borderRadius: 4 }} />

      {/* forest plot */}
      <Box left={0} top={0}><Forest /></Box>
      <Txt x={388} y={13} size={12.5} anchor="middle" color="#111">Hazard ratio</Txt>
      <Txt x={92} y={234.5} size={10.5} italic color="#2a2a2a"># Events: 86; Global p-value (Log-Rank): 5.0889e-08</Txt>
      <Txt x={92} y={249} size={10.5} italic color="#2a2a2a">AIC: 868.82; Concordance Index: 0.73</Txt>

      <Txt x={393} y={285} size={28} anchor="middle" color="#000" family='"Liberation Serif", "Times New Roman", serif'>TCGA</Txt>
      <Txt x={393} y={622} size={28} anchor="middle" color="#000" family='"Liberation Serif", "Times New Roman", serif'>GEO</Txt>

      {/* TCGA KM */}
      <KMLegend x={86} y={335} />
      <Box left={0} top={320}>
        <KMChart series={tcgaKM} xDomain={[-0.57, 12.27]} width={270} height={190}
          margin={{ top: 29, right: 12, bottom: 0, left: 11 }} xHeight={20.5} yTickSize={2} yTickMargin={1} />
      </Box>
      <Txt x={18} y={420} size={8} rotate>Survival probability</Txt>
      <Txt x={150.5} y={504} size={8} anchor="middle">Time (years)</Txt>
      <Txt x={55} y={458} size={8.5}>p &lt; 0.0001</Txt>
      <Txt x={42} y={520} size={9.5}>Number at risk</Txt>
      <Txt x={18} y={540} size={7} rotate>Strata</Txt>
      <Box left={0} top={515}>
        <RiskTable high={TCGA_AT_RISK_HIGH} low={TCGA_AT_RISK_LOW} xDomain={[-0.57, 12.27]} yDomain={[0.36, 2.67]}
          width={270} height={59} margin={{ top: 13, right: 12, bottom: 0, left: 11 }} />
      </Box>
      <Txt x={150.5} y={567} size={8} anchor="middle">Time (years)</Txt>

      {/* TCGA risk score */}
      <Box left={270} top={320}>
        <PointChart a={pairs(TCGA_LOW_RISK)} b={pairs(TCGA_HIGH_RISK)} colorA={TEAL} colorB={RED} r={2.5}
          xDomain={[-15.6, 434.9]} xTicks={[0, 100, 200, 300, 400]} yDomain={[-0.875, 14.5]} yTicks={[0, 5, 10]}
          yFmt={(v: number) => String(v)} width={270} height={81} margin={{ top: 7, right: 15, bottom: 0, left: 15 }}
          hLine={0.76} vLine={208.5} />
      </Box>
      <DotLegend x={319} y={327} gap={11} size={7.2} items={[{ label: 'Low risk', color: TEAL }, { label: 'High risk', color: RED }]} />
      <Txt x={287} y={356} size={7.5} rotate>Risk score</Txt>
      <Txt x={412.7} y={397.7} size={8.5} anchor="middle">Patients</Txt>
      <Box left={270} top={400}>
        <PointChart a={pairs(TCGA_ALIVE)} b={pairs(TCGA_DEAD)} colorA={TEAL} colorB={RED} r={2.5}
          xDomain={[-15.6, 434.9]} xTicks={[0, 100, 200, 300, 400]} yDomain={[-0.88, 12.6]} yTicks={[0, 4, 8, 12]}
          yFmt={(v: number) => String(v)} width={270} height={85} margin={{ top: 8, right: 15, bottom: 0, left: 15 }}
          vLine={208.5} />
      </Box>
      <DotLegend x={503} y={405} gap={10} size={7.5} items={[{ label: 'Alive', color: TEAL }, { label: 'Dead', color: RED }]} />
      <Txt x={287} y={437} size={7.5} rotate>Survival time (year)</Txt>
      <Txt x={412.7} y={480} size={8.5} anchor="middle">Patients</Txt>
      <Box left={286} top={485}><Heatmap rows={TCGA_HEAT} width={211} height={77} riskH={0.55} /></Box>
      <HeatLabels x={499.3} top={485} unit={77 / 6.75} riskH={0.55} />

      {/* TCGA ROC */}
      <Box left={560} top={330}>
        <RocChart curves={tcgaRoc} width={226} height={208} margin={{ top: 20.6, right: 5.5, bottom: 0, left: 8.1 }}
          xHeight={22.9} xTickMargin={7.5} yTickMargin={3.9} />
      </Box>
      <Txt x={566} y={433} size={9} rotate>Sensitivity</Txt>
      <Txt x={684} y={550} size={9} anchor="middle">1-Specificity</Txt>
      <RocLegend cx={731.7} titleY={480} lineX={678} rowsY={[490.7, 499, 507]} items={TCGA_ROC_LEGEND} />

      {/* GEO KM */}
      <KMLegend x={90} y={665} />
      <Box left={0} top={640}>
        <KMChart series={geoKM} xDomain={[-0.6, 12.6]} width={270} height={200}
          margin={{ top: 39.6, right: 7.3, bottom: 0, left: 15 }} xHeight={19.3} yTickSize={2.5} yTickMargin={1.5} />
      </Box>
      <Txt x={21.7} y={750} size={8} rotate>Survival probability</Txt>
      <Txt x={153.7} y={835.3} size={8} anchor="middle">Time (years)</Txt>
      <Txt x={60} y={789} size={8.5}>p = 0.019</Txt>
      <Txt x={45} y={850.7} size={9.5}>Number at risk</Txt>
      <Txt x={20} y={871.7} size={7} rotate>Strata</Txt>
      <Box left={0} top={845}>
        <RiskTable high={GEO_AT_RISK_HIGH} low={GEO_AT_RISK_LOW} xDomain={[-0.6, 12.6]} yDomain={[0.36, 2.49]}
          width={270} height={58} margin={{ top: 13.3, right: 7.3, bottom: 0, left: 15 }} />
      </Box>
      <Txt x={153.7} y={898.3} size={8} anchor="middle">Time (years)</Txt>

      {/* GEO risk score */}
      <Box left={270} top={645}>
        <PointChart a={pairs(GEO_LOW_RISK)} b={pairs(GEO_HIGH_RISK)} colorA={TEAL} colorB={RED} r={2.5}
          xDomain={[-20, 543]} xTicks={[0, 100, 200, 300, 400, 500]} yDomain={[-0.234, 0.587]} yTicks={[-0.2, 0, 0.2, 0.4]}
          yFmt={(v: number) => v.toFixed(1)} width={270} height={89.3} margin={{ top: 9, right: 12.7, bottom: 0, left: 14.7 }}
          hLine={0.106} vLine={260.5} />
      </Box>
      <DotLegend x={319.3} y={656} gap={10.7} size={7.2} items={[{ label: 'Low risk', color: TEAL }, { label: 'High risk', color: RED }]} />
      <Txt x={285} y={686} size={8} rotate>Risk score</Txt>
      <Txt x={414} y={729.3} size={8.5} anchor="middle">Patients</Txt>
      <Box left={270} top={730}>
        <PointChart a={pairs(GEO_ALIVE)} b={pairs(GEO_DEAD)} colorA={TEAL} colorB={RED} r={2.5}
          xDomain={[-20, 543]} xTicks={[0, 100, 200, 300, 400, 500]} yDomain={[-0.81, 17.7]} yTicks={[0, 5, 10, 15]}
          yFmt={(v: number) => String(v)} width={270} height={86} margin={{ top: 8.3, right: 12.7, bottom: 0, left: 14.7 }}
          vLine={260.5} />
      </Box>
      <DotLegend x={506.7} y={735.7} gap={10.3} size={7.5} items={[{ label: 'Alive', color: TEAL }, { label: 'Dead', color: RED }]} />
      <Txt x={285} y={770} size={7.5} rotate>Survival time (year)</Txt>
      <Txt x={414} y={812.3} size={8.5} anchor="middle">Patients</Txt>
      <Box left={296.7} top={822.5}><Heatmap rows={GEO_HEAT} width={209.3} height={76} riskH={0.47} /></Box>
      <HeatLabels x={507.7} top={822.5} unit={76 / 6.67} riskH={0.47} />

      {/* GEO ROC */}
      <Box left={560} top={660}>
        <RocChart curves={geoRoc} width={226} height={203} margin={{ top: 18, right: 3.9, bottom: 0, left: 12.2 }}
          xHeight={22.3} xTickMargin={7.1} yTickMargin={8} />
      </Box>
      <Txt x={568} y={759} size={9} rotate>Sensitivity</Txt>
      <Txt x={686.7} y={876} size={9} anchor="middle">1-Specificity</Txt>
      <RocLegend cx={740} titleY={806} lineX={680.7} rowsY={[816, 824.7, 832.7]} items={GEO_ROC_LEGEND} />
    </div>
  );
}
